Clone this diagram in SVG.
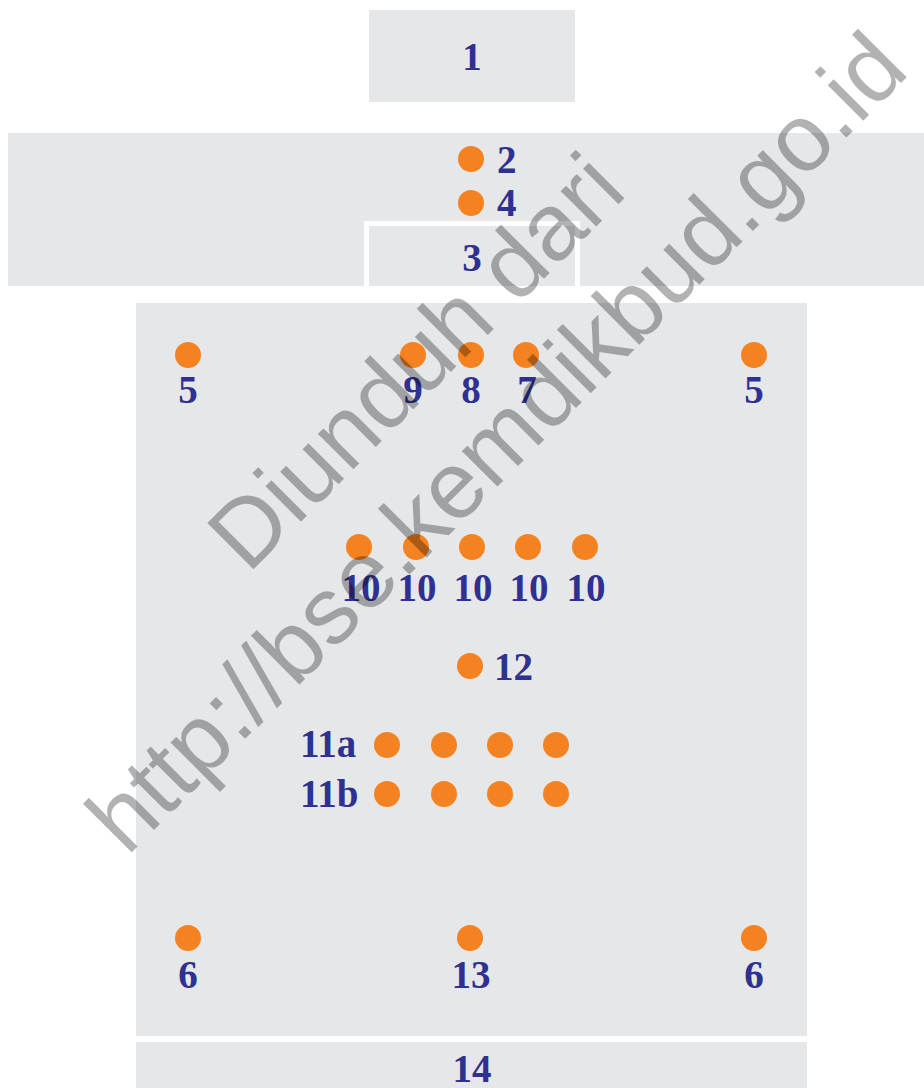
<svg xmlns="http://www.w3.org/2000/svg" width="924" height="1088" viewBox="0 0 924 1088">
<style>
.area{fill:#E6E7E8}
.dot{fill:#F58220}
.lbl{font-family:"Liberation Serif","Times New Roman",serif;font-weight:bold;font-size:39px;fill:#2E3192;text-anchor:middle}
.st{text-anchor:start}
.wm{font-family:"Liberation Sans",Arial,sans-serif;font-size:95px;fill:#000;fill-opacity:0.3;text-anchor:middle}
</style>
<rect width="924" height="1088" fill="#fff"/>
<g id="node-1"><rect class="area" x="369" y="10" width="206" height="92"/><text class="lbl" x="472" y="70">1</text></g>
<g id="node-band"><rect class="area" x="8" y="133" width="916" height="153"/></g>
<g id="node-3"><rect x="364" y="221" width="216" height="65" fill="#fff"/><rect class="area" x="369" y="226" width="206" height="60"/><text class="lbl" x="472" y="271">3</text></g>
<g id="node-2"><circle class="dot" cx="471" cy="159" r="13"/><text class="lbl st" x="497" y="173">2</text></g>
<g id="node-4"><circle class="dot" cx="471" cy="203" r="13"/><text class="lbl st" x="497" y="216">4</text></g>
<g id="node-main"><rect class="area" x="136" y="303" width="671" height="733"/></g>
<g id="node-14"><rect class="area" x="136" y="1042" width="671" height="46"/><text class="lbl" x="472" y="1082">14</text></g>
<g id="node-5a"><circle class="dot" cx="188" cy="355" r="13"/><text class="lbl" x="188" y="403">5</text></g>
<g id="node-9"><circle class="dot" cx="413" cy="355" r="13"/><text class="lbl" x="413" y="403">9</text></g>
<g id="node-8"><circle class="dot" cx="471" cy="355" r="13"/><text class="lbl" x="471" y="403">8</text></g>
<g id="node-7"><circle class="dot" cx="526" cy="355" r="13"/><text class="lbl" x="527" y="403">7</text></g>
<g id="node-5b"><circle class="dot" cx="754" cy="355" r="13"/><text class="lbl" x="754" y="403">5</text></g>
<g id="node-10a"><circle class="dot" cx="359" cy="547" r="13"/><text class="lbl" x="361" y="601">10</text></g>
<g id="node-10b"><circle class="dot" cx="416" cy="547" r="13"/><text class="lbl" x="417" y="601">10</text></g>
<g id="node-10c"><circle class="dot" cx="472" cy="547" r="13"/><text class="lbl" x="473" y="601">10</text></g>
<g id="node-10d"><circle class="dot" cx="528" cy="547" r="13"/><text class="lbl" x="529" y="601">10</text></g>
<g id="node-10e"><circle class="dot" cx="585" cy="547" r="13"/><text class="lbl" x="586" y="601">10</text></g>
<g id="node-12"><circle class="dot" cx="470" cy="666" r="13"/><text class="lbl st" x="494" y="680">12</text></g>
<g id="node-11a"><text class="lbl st" x="300" y="757">11a</text><circle class="dot" cx="387" cy="745" r="13"/><circle class="dot" cx="444" cy="745" r="13"/><circle class="dot" cx="500" cy="745" r="13"/><circle class="dot" cx="556" cy="745" r="13"/></g>
<g id="node-11b"><text class="lbl st" x="300" y="807">11b</text><circle class="dot" cx="387" cy="794" r="13"/><circle class="dot" cx="444" cy="794" r="13"/><circle class="dot" cx="500" cy="794" r="13"/><circle class="dot" cx="556" cy="794" r="13"/></g>
<g id="node-6a"><circle class="dot" cx="188" cy="938" r="13"/><text class="lbl" x="188" y="988">6</text></g>
<g id="node-13"><circle class="dot" cx="470" cy="938" r="13"/><text class="lbl" x="471" y="988">13</text></g>
<g id="node-6b"><circle class="dot" cx="754" cy="938" r="13"/><text class="lbl" x="754" y="988">6</text></g>
<g id="connectors"></g>
<g id="watermark" transform="translate(519,465) rotate(-45)">
<text class="wm" x="0" y="-114">Diunduh dari</text>
<text class="wm" x="0" y="0">http://bse.kemdikbud.go.id</text>
</g>
</svg>
